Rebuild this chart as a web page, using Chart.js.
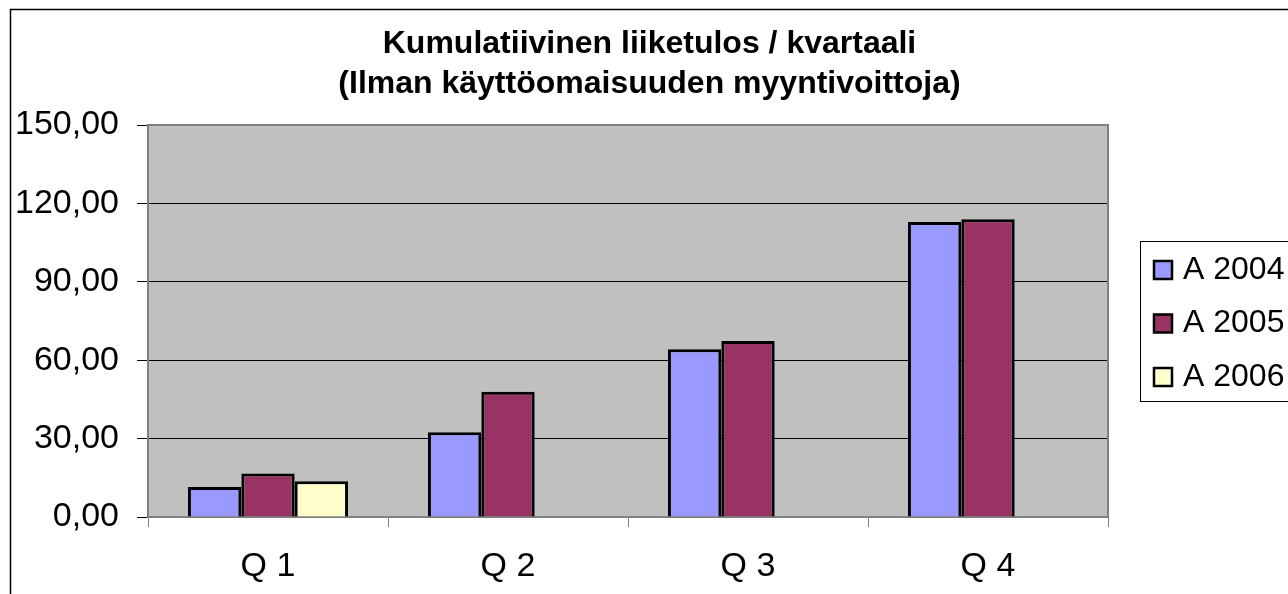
<!DOCTYPE html>
<html>
<head>
<meta charset="utf-8">
<script src="https://cdn.jsdelivr.net/npm/chart.js@4/dist/chart.umd.min.js"></script>
<style>
html, body { margin: 0; padding: 0; background: #fff; }
canvas { display: block; }
</style>
</head>
<body>
<canvas id="chart" width="1288" height="594"></canvas>
<script>
const quarters = ['Q 1', 'Q 2', 'Q 3', 'Q 4'];
const seriesNames = ['A 2004', 'A 2005', 'A 2006'];
const values2004 = [11.5, 32.4, 64.2, 112.9];
const values2005 = [16.6, 47.9, 67.3, 113.9];
const values2006 = [13.7, null, null, null];
const yTickLabels = ['0,00', '30,00', '60,00', '90,00', '120,00', '150,00'];
const titleLines = ['Kumulatiivinen liiketulos / kvartaali', '(Ilman käyttöomaisuuden myyntivoittoja)'];
const seriesColors = ['#9999FF', '#993366', '#FFFFCC'];

const fontFamily = '"Liberation Sans", Arial, sans-serif';

// Excel-style frame: grey plot area, outer border and boxed legend
const excelFrame = {
    id: 'excelFrame',
    beforeDraw(chart) {
        const { ctx, chartArea: a } = chart;
        ctx.save();
        ctx.fillStyle = '#C0C0C0';
        ctx.fillRect(a.left, a.top, a.right - a.left, a.bottom - a.top);
        ctx.restore();
    },
    beforeDatasetsDraw(chart) {
        const { ctx, chartArea: a } = chart;
        ctx.save();
        ctx.strokeStyle = '#808080';
        ctx.lineWidth = 2;
        ctx.strokeRect(a.left, a.top, a.right - a.left, a.bottom - a.top);
        ctx.restore();
    },
    afterDraw(chart) {
        const ctx = chart.ctx;
        ctx.save();
        // outer chart border (runs off the right and bottom edge)
        ctx.strokeStyle = '#000';
        ctx.lineWidth = 1.5;
        ctx.strokeRect(10.5, 9.5, 2000, 2000);

        // legend box
        ctx.lineWidth = 1;
        ctx.strokeRect(1140.5, 241.5, 400, 160);
        ctx.font = '32px ' + fontFamily;
        ctx.textBaseline = 'middle';
        ctx.textAlign = 'left';
        chart.data.datasets.forEach((ds, i) => {
            const y = 270 + i * 53.5;
            ctx.fillStyle = ds.backgroundColor;
            ctx.fillRect(1154, y - 9, 18, 18);
            ctx.lineWidth = 2.5;
            ctx.strokeStyle = '#000';
            ctx.strokeRect(1154, y - 9, 18, 18);
            ctx.fillStyle = '#000';
            ctx.fillText(ds.label, 1183, y);
        });
        ctx.restore();
    }
};

const seriesValues = [values2004, values2005, values2006];

new Chart(document.getElementById('chart').getContext('2d'), {
    type: 'bar',
    data: {
        labels: quarters,
        datasets: seriesNames.map((name, i) => ({
            label: name,
            data: seriesValues[i],
            backgroundColor: seriesColors[i],
            borderColor: '#000',
            borderWidth: 3,
            categoryPercentage: 0.667,
            barPercentage: 1
        }))
    },
    options: {
        responsive: false,
        animation: false,
        devicePixelRatio: 1,
        layout: { padding: { left: 11, top: 0, right: 0, bottom: 0 } },
        plugins: {
            legend: { display: false },
            tooltip: { enabled: false },
            title: {
                display: true,
                text: titleLines,
                color: '#000',
                font: { family: fontFamily, size: 32, weight: 'bold', lineHeight: 1.25 },
                padding: { top: 24, bottom: 21 }
            }
        },
        scales: {
            x: {
                grid: {
                    display: true,
                    drawOnChartArea: false,
                    drawTicks: true,
                    tickLength: 10,
                    color: '#808080',
                    offset: true
                },
                border: { display: false },
                ticks: { color: '#000', font: { family: fontFamily, size: 34 }, padding: 19 },
                afterFit(s) { s.height = 77; }
            },
            y: {
                min: 0,
                max: 150,
                ticks: {
                    stepSize: 30,
                    color: '#000',
                    font: { family: fontFamily, size: 34 },
                    padding: 18,
                    callback: (v, i) => yTickLabels[i]
                },
                grid: { color: '#000', lineWidth: 1, tickLength: 11, tickColor: '#000' },
                border: { display: false },
                afterFit(s) { s.width = 137; }
            },
            yRight: {
                position: 'right',
                display: true,
                grid: { display: false },
                ticks: { display: false },
                border: { display: false },
                afterFit(s) { s.width = 180; }
            }
        }
    },
    plugins: [excelFrame]
});
</script>
</body>
</html>
